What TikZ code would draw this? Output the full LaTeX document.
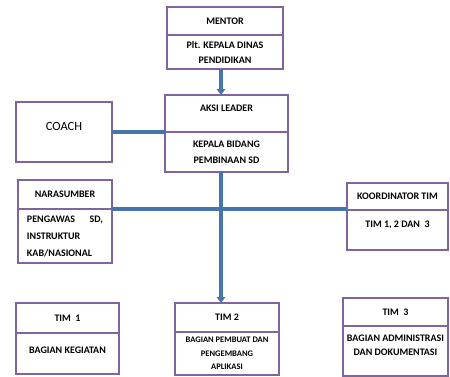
\documentclass[tikz,border=0pt]{standalone}
\usepackage{fontspec}
\setmainfont{Carlito}
\usetikzlibrary{arrows.meta}
\definecolor{boxline}{HTML}{8064A2}
\definecolor{conn}{HTML}{4674AC}
\begin{document}
\begin{tikzpicture}[x=1pt,y=-1pt,
  box/.style={draw=boxline, line width=1.3pt, outer sep=0pt, inner sep=0pt, anchor=north west, align=center, font=\bfseries\fontsize{10}{15}\selectfont},
  lbl/.style={inner sep=0pt, align=center, font=\bfseries\fontsize{10}{15}\selectfont},
  link/.style={draw=conn, line width=3.5pt},
  arr/.style={link, -{Triangle[width=8.5pt,length=6pt]}}
]
\useasboundingbox (0,0) rectangle (450,376);
\coordinate (spine) at (221,0);
% MENTOR
\node[box, minimum width=116pt, minimum height=28pt] (mentorH) at (167,7) {MENTOR};
\node[box, minimum width=116pt, minimum height=34pt] (mentorB) at (167,35) {Plt. KEPALA DINAS\\PENDIDIKAN};
% AKSI LEADER
\node[box, minimum width=123pt, minimum height=37pt] (aksiH) at (165,95) {};
\node[lbl] (aksiHt) at ([yshift=5pt]aksiH.center) {AKSI LEADER};
\node[box, minimum width=123pt, minimum height=40pt, font=\bfseries\fontsize{10}{16}\selectfont] (aksiB) at (165,132) {KEPALA BIDANG\\PEMBINAAN SD};
% COACH
\node[box, minimum width=96pt, minimum height=60pt] (coach) at (16,102) {};
\node[lbl, font=\fontsize{12.5}{15}\selectfont] (coachT) at ([yshift=6pt]coach.center) {COACH};
% NARASUMBER
\node[box, minimum width=94pt, minimum height=29pt] (naraH) at (18,180) {NARASUMBER};
\node[box, minimum width=94pt, minimum height=54pt, text width=76pt, align=left, font=\bfseries\fontsize{10}{17}\selectfont] (naraB) at (18,209) {\makebox[76pt][s]{PENGAWAS\hfill SD,}\\INSTRUKTUR\\KAB/NASIONAL};
% KOORDINATOR
\node[box, minimum width=101pt, minimum height=27pt] (koordH) at (347,183) {KOORDINATOR TIM};
\node[box, minimum width=101pt, minimum height=40pt] (koordB) at (347,210) {};
\node[lbl] (koordBt) at ([yshift=5pt]koordB.center) {TIM 1, 2 DAN\ \ 3};
% TIM 1
\node[box, minimum width=103pt, minimum height=30pt] (tim1H) at (16,303) {TIM\ \ 1};
\node[box, minimum width=103pt, minimum height=41pt] (tim1B) at (16,333) {};
\node[lbl] (tim1Bt) at ([yshift=3.5pt]tim1B.center) {BAGIAN KEGIATAN};
% TIM 2
\node[box, minimum width=104pt, minimum height=29pt] (tim2H) at (175,303) {TIM 2};
\node[box, minimum width=104pt, minimum height=43pt, font=\bfseries\fontsize{8.5}{13.5}\selectfont] (tim2B) at (175,332) {BAGIAN PEMBUAT DAN\\PENGEMBANG\\APLIKASI};
% TIM 3
\node[box, minimum width=105pt, minimum height=28pt] (tim3H) at (343,298) {TIM\ \ 3};
\node[box, minimum width=105pt, minimum height=50pt] (tim3B) at (343,326) {};
\node[lbl, font=\bfseries\fontsize{10}{14}\selectfont] (tim3Bt) at ([yshift=6pt]tim3B.center) {BAGIAN ADMINISTRASI\\DAN DOKUMENTASI};
% connectors
\draw[arr] (mentorB.south -| spine) -- (aksiH.north -| spine);
\draw[link] (coach.east) -- (coach.east -| aksiB.west);
\draw[link] (naraB.north east) -- (naraB.north east -| koordB.west);
\draw[arr] (aksiB.south -| spine) -- (tim2H.north -| spine);
\end{tikzpicture}
\end{document}
